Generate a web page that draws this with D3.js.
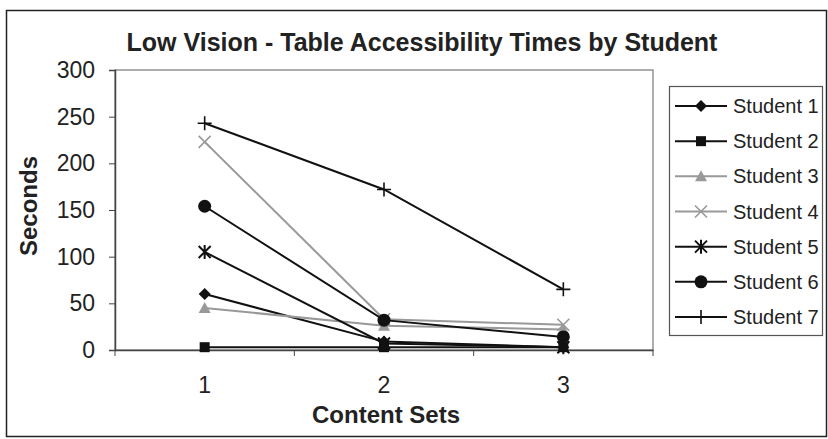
<!DOCTYPE html>
<html>
<head>
<meta charset="utf-8">
<script src="https://cdn.jsdelivr.net/npm/d3@7"></script>
<style>
  body { margin: 0; background: #fff; }
  svg { display: block; font-family: "Liberation Sans", Arial, sans-serif; }
</style>
</head>
<body>
<div id="chart"></div>
<script>
const contentSets = [1, 2, 3];
const yTicks = [0, 50, 100, 150, 200, 250, 300];
const students = ["Student 1", "Student 2", "Student 3", "Student 4", "Student 5", "Student 6", "Student 7"];
const student1 = [60, 9, 3];
const student2 = [3, 3, 3];
const student3 = [45, 26, 22];
const student4 = [223, 33, 27];
const student5 = [105, 7, 3];
const student6 = [154, 32, 14];
const student7 = [243, 172, 65];
const seriesValues = [student1, student2, student3, student4, student5, student6, student7];

const colors = ["#111", "#111", "#999", "#999", "#111", "#111", "#111"];
const markers = ["diamond", "square", "triangle", "x", "asterisk", "circle", "plus"];

const width = 828;
const height = 439;
const plot = { left: 115, right: 653, top: 70, bottom: 350 };

const svg = d3.select("#chart")
    .append("svg")
    .attr("width", width)
    .attr("height", height);

// outer frame
svg.append("rect")
    .attr("x", 6.5).attr("y", 10.5)
    .attr("width", 820).attr("height", 426)
    .attr("fill", "none")
    .attr("stroke", "#222")
    .attr("stroke-width", 1.5);

const x = d3.scaleBand()
    .domain(contentSets)
    .range([plot.left, plot.right]);

const y = d3.scaleLinear()
    .domain([0, 300])
    .range([plot.bottom, plot.top]);

// plot area border
svg.append("rect")
    .attr("x", plot.left).attr("y", plot.top)
    .attr("width", plot.right - plot.left)
    .attr("height", plot.bottom - plot.top)
    .attr("fill", "none")
    .attr("stroke", "#777")
    .attr("stroke-width", 1.2);

// y axis
const yAxis = svg.append("g")
    .attr("transform", `translate(${plot.left},0)`)
    .call(d3.axisLeft(y).tickValues(yTicks).tickSize(6).tickPadding(14));
yAxis.select(".domain").attr("stroke", "#444").attr("stroke-width", 1.5);
yAxis.selectAll(".tick line").attr("stroke", "#444");
yAxis.selectAll("text")
    .attr("font-size", 23)
    .attr("fill", "#222")
    .attr("font-family", "Liberation Sans, Arial, sans-serif");

// x axis
const xAxis = svg.append("g")
    .attr("transform", `translate(0,${plot.bottom})`)
    .call(d3.axisBottom(x).tickSize(0).tickPadding(27));
xAxis.select(".domain").attr("stroke", "#444").attr("stroke-width", 1.5);
xAxis.selectAll("text")
    .attr("font-size", 23)
    .attr("fill", "#222")
    .attr("font-family", "Liberation Sans, Arial, sans-serif");

// category boundary ticks
const boundaries = contentSets.map(c => x(c)).concat([x.range()[1]]);
svg.append("g")
    .selectAll("line")
    .data(boundaries)
    .enter()
    .append("line")
    .attr("x1", d => d).attr("x2", d => d)
    .attr("y1", plot.bottom).attr("y2", plot.bottom + 6)
    .attr("stroke", "#444");

// title
svg.append("text")
    .attr("x", 422).attr("y", 51)
    .attr("text-anchor", "middle")
    .attr("font-size", 25)
    .attr("font-weight", "bold")
    .attr("fill", "#222")
    .text("Low Vision - Table Accessibility Times by Student");

svg.append("text")
    .attr("transform", `translate(37,206) rotate(-90)`)
    .attr("text-anchor", "middle")
    .attr("font-size", 24)
    .attr("font-weight", "bold")
    .attr("fill", "#222")
    .text("Seconds");

svg.append("text")
    .attr("x", (plot.left + plot.right) / 2 + 2).attr("y", 423)
    .attr("text-anchor", "middle")
    .attr("font-size", 24)
    .attr("font-weight", "bold")
    .attr("fill", "#222")
    .text("Content Sets");

function drawMarker(g, type, color) {
    if (type === "diamond") {
        g.append("path").attr("d", "M0,-6L6,0L0,6L-6,0Z").attr("fill", color);
    } else if (type === "square") {
        g.append("rect").attr("x", -5).attr("y", -5).attr("width", 10).attr("height", 10).attr("fill", color);
    } else if (type === "triangle") {
        g.append("path").attr("d", "M0,-6L6,5L-6,5Z").attr("fill", color);
    } else if (type === "x") {
        g.append("path").attr("d", "M-6,-6L6,6M-6,6L6,-6").attr("stroke", color).attr("stroke-width", 1.6);
    } else if (type === "asterisk") {
        g.append("path").attr("d", "M-6,-6L6,6M-6,6L6,-6M0,-7L0,7").attr("stroke", color).attr("stroke-width", 2);
    } else if (type === "circle") {
        g.append("circle").attr("r", 6.5).attr("fill", color);
    } else if (type === "plus") {
        g.append("path").attr("d", "M-7,0L7,0M0,-7L0,7").attr("stroke", color).attr("stroke-width", 1.6);
    }
}

const line = d3.line()
    .x((d, i) => x(contentSets[i]) + x.bandwidth() / 2)
    .y(d => y(d));

// lines
seriesValues.forEach((vals, s) => {
    svg.append("path")
        .datum(vals)
        .attr("d", line)
        .attr("fill", "none")
        .attr("stroke", colors[s])
        .attr("stroke-width", 2);
});

// markers
seriesValues.forEach((vals, s) => {
    svg.append("g")
        .selectAll("g")
        .data(vals)
        .enter()
        .append("g")
        .attr("transform", (d, i) => `translate(${x(contentSets[i]) + x.bandwidth() / 2},${y(d)})`)
        .each(function () { drawMarker(d3.select(this), markers[s], colors[s]); });
});

// legend
const legend = svg.append("g");
legend.append("rect")
    .attr("x", 669.5).attr("y", 86.5)
    .attr("width", 153).attr("height", 249)
    .attr("fill", "#fff")
    .attr("stroke", "#555")
    .attr("stroke-width", 1.2);

const legendY = d3.scalePoint()
    .domain(students)
    .range([106, 317]);

students.forEach((name, s) => {
    const gy = legendY(name);
    legend.append("line")
        .attr("x1", 675).attr("x2", 727)
        .attr("y1", gy).attr("y2", gy)
        .attr("stroke", colors[s])
        .attr("stroke-width", 2);
    const m = legend.append("g").attr("transform", `translate(701,${gy})`);
    drawMarker(m, markers[s], colors[s]);
    legend.append("text")
        .attr("x", 733).attr("y", gy)
        .attr("dy", "0.35em")
        .attr("font-size", 20)
        .attr("fill", "#222")
        .text(name);
});
</script>
</body>
</html>
